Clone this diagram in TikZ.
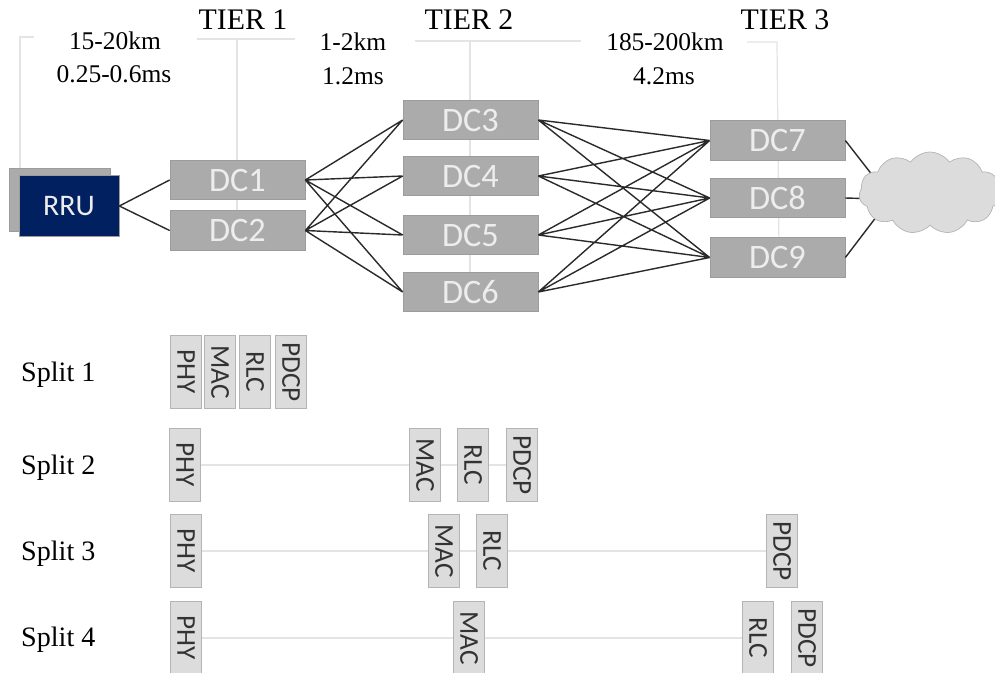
\documentclass[tikz,border=0pt]{standalone}
\usepackage{fontspec}
\setmainfont{Liberation Serif}
\newfontfamily\boxfont{Carlito}
\usetikzlibrary{shapes.symbols}
\definecolor{dcgray}{HTML}{ABABAB}
\definecolor{dcedge}{HTML}{9C9C9C}
\definecolor{dctext}{HTML}{EDEDED}
\definecolor{rrublue}{HTML}{002060}
\definecolor{layergray}{HTML}{DCDCDC}
\definecolor{layeredge}{HTML}{B4B4B4}
\definecolor{thingray}{HTML}{E4E4E4}
\definecolor{wire}{HTML}{2A2A2A}

\begin{document}
\begin{tikzpicture}[x=0.02cm, y=-0.02cm,
		dcbox/.style={draw=dcedge, fill=dcgray, text=dctext, inner sep=0pt, minimum width=2.7cm, minimum height=0.79cm, font=\boxfont\fontsize{19.5}{20}\selectfont},
		layerbox/.style={draw=layeredge, fill=layergray, text=black!80, inner sep=0pt, rotate=-90, minimum width=1.47cm, minimum height=0.62cm, font=\boxfont\fontsize{15.5}{16}\selectfont},
		tierlabel/.style={font=\fontsize{17}{18}\selectfont},
		hoplabel/.style={font=\fontsize{14.5}{15}\selectfont},
		splitlabel/.style={anchor=west, font=\fontsize{16}{17}\selectfont},
		guide/.style={draw=thingray, line width=0.7pt},
		link/.style={draw=wire, line width=0.8pt}]

		% page size and the clip for the cloud
		\useasboundingbox (0,0) rectangle (995,673);
		\clip (0,0) rectangle (995,673);

		% the light guide lines behind the tier boxes
		\coordinate (rru top) at (20,37);
		\coordinate (rru end) at (34,37);
		\coordinate (rru low) at (20,170);
		\draw[guide] (rru end) -- (rru top) -- (rru low);
		\coordinate (t1 left) at (197,39);
		\coordinate (t1 right) at (295,39);
		\coordinate (t1 top) at (237,39);
		\coordinate (t1 low) at (237,240);
		\draw[guide] (t1 left) -- (t1 right) (t1 top) -- (t1 low);
		\coordinate (t2 left) at (415,41);
		\coordinate (t2 right) at (581,41);
		\coordinate (t2 top) at (470,41);
		\coordinate (t2 low) at (470,300);
		\draw[guide] (t2 left) -- (t2 right) (t2 top) -- (t2 low);
		\coordinate (t3 left) at (747,42);
		\coordinate (t3 top) at (777,42);
		\coordinate (t3 low) at (779,250);
		\draw[guide] (t3 left) -- (t3 top) -- (t3 low);

		% tier names and the distance labels
		\node[tierlabel] (tier1) at (243,20) {TIER 1};
		\node[tierlabel] (tier2) at (469,20) {TIER 2};
		\node[tierlabel] (tier3) at (785,20) {TIER 3};
		\node[hoplabel] (hop1a) at (115,41) {15-20km};
		\node[hoplabel] (hop1b) at (114,74) {0.25-0.6ms};
		\node[hoplabel] (hop2a) at (353,42) {1-2km};
		\node[hoplabel] (hop2b) at (353,76) {1.2ms};
		\node[hoplabel] (hop3a) at (665,42) {185-200km};
		\node[hoplabel] (hop3b) at (664,76) {4.2ms};

		% radio unit, one box behind the other
		\node[draw=dcedge, fill=dcgray, minimum width=2.02cm, minimum height=1.26cm] (RRUback) at (60,200) {};
		\node[draw=dcedge, fill=rrublue, text=dctext, inner sep=0pt, minimum width=2cm, minimum height=1.22cm, font=\boxfont\fontsize{17}{18}\selectfont] (RRU) at (69,206) {RRU};

		% the data centres
		\node[dcbox] (DC1) at (237.5,180) {DC1};
		\node[dcbox] (DC2) at (237.5,230.5) {DC2};
		\node[dcbox] (DC3) at (470.5,120) {DC3};
		\node[dcbox] (DC4) at (470.5,176) {DC4};
		\node[dcbox] (DC5) at (470.5,235) {DC5};
		\node[dcbox] (DC6) at (470.5,292) {DC6};
		\node[dcbox] (DC7) at (777.5,140.5) {DC7};
		\node[dcbox] (DC8) at (777.5,198) {DC8};
		\node[dcbox] (DC9) at (777.5,257.5) {DC9};

		% links between the tiers
		\draw[link] (RRU.east) -- (DC1.west) (RRU.east) -- (DC2.west);
		\draw[link]
			(DC1.east) -- (DC3.west) (DC1.east) -- (DC4.west)
			(DC1.east) -- (DC5.west) (DC1.east) -- (DC6.west)
			(DC2.east) -- (DC3.west) (DC2.east) -- (DC4.west)
			(DC2.east) -- (DC5.west) (DC2.east) -- (DC6.west);
		\draw[link]
			(DC3.east) -- (DC7.west) (DC3.east) -- (DC8.west) (DC3.east) -- (DC9.west)
			(DC4.east) -- (DC7.west) (DC4.east) -- (DC8.west) (DC4.east) -- (DC9.west)
			(DC5.east) -- (DC7.west) (DC5.east) -- (DC8.west) (DC5.east) -- (DC9.west)
			(DC6.east) -- (DC7.west) (DC6.east) -- (DC8.west) (DC6.east) -- (DC9.west);

		% the cloud sits on top of its three links
		\coordinate (cloud a) at (880,185);
		\coordinate (cloud b) at (880,199);
		\coordinate (cloud c) at (880,212);
		\draw[link] (DC7.east) -- (cloud a) (DC8.east) -- (cloud b) (DC9.east) -- (cloud c);
		\node[cloud, cloud puffs=11, cloud puff arc=110, aspect=1.7, draw=layeredge, fill=layergray, inner sep=0pt, minimum width=2.84cm, minimum height=1.64cm] (cloud) at (930,193) {};

		% split 1
		\node[splitlabel] (split1) at (15,375) {Split 1};
		\node[layerbox] (phy1) at (186,372) {PHY};
		\node[layerbox] (mac1) at (220,372) {MAC};
		\node[layerbox] (rlc1) at (255,372) {RLC};
		\node[layerbox] (pdcp1) at (291,372) {PDCP};

		% split 2
		\node[splitlabel] (split2) at (15,468) {Split 2};
		\node[layerbox] (phy2) at (185,465) {PHY};
		\node[layerbox] (mac2) at (425,465) {MAC};
		\node[layerbox] (rlc2) at (473,465) {RLC};
		\node[layerbox] (pdcp2) at (522,465) {PDCP};
		\draw[guide] (phy2) -- (mac2) -- (rlc2) -- (pdcp2);

		% split 3
		\node[splitlabel] (split3) at (15,554) {Split 3};
		\node[layerbox] (phy3) at (186,551) {PHY};
		\node[layerbox] (mac3) at (444,551) {MAC};
		\node[layerbox] (rlc3) at (492,551) {RLC};
		\node[layerbox] (pdcp3) at (782,551) {PDCP};
		\draw[guide] (phy3) -- (mac3) -- (rlc3) -- (pdcp3);

		% split 4
		\node[splitlabel] (split4) at (15,640) {Split 4};
		\node[layerbox] (phy4) at (186,638) {PHY};
		\node[layerbox] (mac4) at (469,638) {MAC};
		\node[layerbox] (rlc4) at (758,638) {RLC};
		\node[layerbox] (pdcp4) at (807,638) {PDCP};
		\draw[guide] (phy4) -- (mac4) -- (rlc4);
\end{tikzpicture}
\end{document}
